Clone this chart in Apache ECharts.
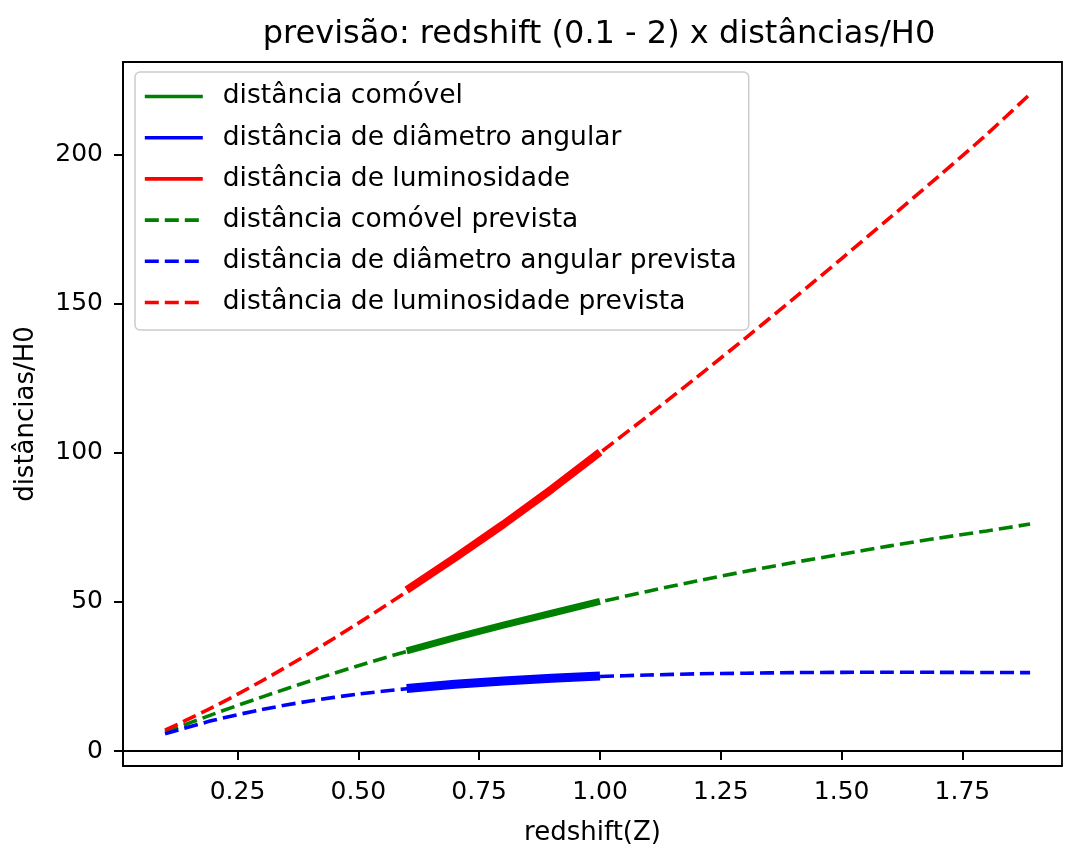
<!DOCTYPE html>
<html>
<head>
<meta charset="utf-8">
<script src="https://cdn.jsdelivr.net/npm/echarts@6/dist/echarts.min.js"></script>
<style>html,body{margin:0;padding:0;background:#fff}#c{width:1067px;height:851px}</style>
</head>
<body>
<div id="c"></div>
<script>
// redshift sample points
const zPrev = [0.1, 0.2, 0.3, 0.4, 0.5, 0.6, 0.7, 0.8, 0.9, 1.0, 1.1, 1.2, 1.3, 1.4, 1.5, 1.6, 1.7, 1.8, 1.89];
const comovelPrev = [6.3, 12.4, 18.1, 23.5, 28.6, 33.4, 37.9, 42.2, 46.2, 50.0, 53.6, 57.0, 60.2, 63.2, 66.0, 68.8, 71.4, 73.8, 76.1];
const angularPrev = [5.8, 10.3, 13.9, 16.8, 19.1, 20.9, 22.3, 23.4, 24.3, 25.0, 25.5, 25.9, 26.1, 26.3, 26.4, 26.45, 26.4, 26.35, 26.3];
const luminPrev = [7.0, 14.8, 23.5, 32.9, 42.9, 53.4, 64.5, 75.9, 87.8, 100.0, 112.5, 125.3, 138.3, 151.6, 165.1, 178.8, 192.6, 206.7, 220.3];

const zObs = [0.6, 0.7, 0.8, 0.9, 1.0];
const comovelObs = [33.6, 38.0, 42.2, 46.2, 50.2];
const angularObs = [21.0, 22.4, 23.5, 24.4, 25.2];
const luminObs = [54.0, 64.8, 76.0, 87.8, 100.2];

const xTicks = [0.25, 0.5, 0.75, 1.0, 1.25, 1.5, 1.75];
const yTicks = [0, 50, 100, 150, 200];

const names = [
  'distância comóvel',
  'distância de diâmetro angular',
  'distância de luminosidade',
  'distância comóvel prevista',
  'distância de diâmetro angular prevista',
  'distância de luminosidade prevista'
];
const colors = ['#008000', '#0000ff', '#ff0000', '#008000', '#0000ff', '#ff0000'];

const pair = (xs, ys) => xs.map((x, i) => [x, ys[i]]);
const FONT = 'DejaVu Sans';
const DASH = [14, 6];
const LW = 3.6;

function line(name, xs, ys, color, dashed, width) {
  return {
    name: name, type: 'line', data: pair(xs, ys),
    showSymbol: false, symbol: 'none', smooth: dashed ? 0.3 : false,
    lineStyle: { color: color, width: width, type: dashed ? DASH : 'solid', cap: 'butt' },
    itemStyle: { color: color },
    emphasis: { disabled: true }, animation: false
  };
}

const chart = echarts.init(document.getElementById('c'), null, { renderer: 'canvas' });
chart.setOption({
  animation: false,
  backgroundColor: '#fff',
  title: {
    text: 'previsão: redshift (0.1 - 2) x distâncias/H0',
    left: 594, textAlign: 'center', top: 14,
    textStyle: { fontFamily: FONT, fontSize: 32, fontWeight: 'normal', color: '#000' }
  },
  legend: {
    orient: 'vertical', left: 135, top: 72,
    padding: [11, 12, 14, 8],
    itemWidth: 58, itemHeight: 26, itemGap: 14.2,
    borderColor: '#cccccc', borderWidth: 1.5, borderRadius: 5,
    backgroundColor: 'rgba(255,255,255,0.85)',
    textStyle: { fontFamily: FONT, fontSize: 26.5, lineHeight: 26, color: '#000', padding: [0, 0, 0, 15] },
    data: names.map((n, i) => ({
      name: n,
      itemStyle: { color: 'transparent', borderWidth: 0, opacity: 0 },
      lineStyle: { width: LW, color: colors[i], type: i >= 3 ? DASH : 'solid', cap: 'butt', opacity: 1 }
    }))
  },
  grid: { left: 123, right: 5, top: 62, bottom: 78, show: true, borderColor: '#000', borderWidth: 1.8, containLabel: false },
  xAxis: {
    type: 'value', min: 0.013, max: 1.956,
    name: 'redshift(Z)', nameLocation: 'middle', nameGap: 54,
    nameTextStyle: { fontFamily: FONT, fontSize: 26, color: '#000' },
    axisLine: { show: true, lineStyle: { color: '#000', width: 1.8 } },
    axisTick: { show: true, inside: false, length: 9, customValues: xTicks, lineStyle: { color: '#000', width: 2 } },
    axisLabel: { customValues: xTicks, margin: 14, fontFamily: FONT, fontSize: 25, color: '#000', formatter: v => v.toFixed(2) },
    splitLine: { show: false }
  },
  yAxis: {
    type: 'value', min: -5, max: 231,
    name: 'distâncias/H0', nameLocation: 'middle', nameGap: 84, nameRotate: 90,
    nameTextStyle: { fontFamily: FONT, fontSize: 26, color: '#000' },
    axisLine: { show: true, lineStyle: { color: '#000', width: 1.8 } },
    axisTick: { show: true, inside: false, length: 9, customValues: yTicks, lineStyle: { color: '#000', width: 2 } },
    axisLabel: { customValues: yTicks, margin: 20, fontFamily: FONT, fontSize: 25, color: '#000' },
    splitLine: { show: false }
  },
  series: [
    line(names[0], zObs, comovelObs, colors[0], false, 7),
    line(names[1], zObs, angularObs, colors[1], false, 9),
    line(names[2], zObs, luminObs, colors[2], false, 8),
    line(names[3], zPrev, comovelPrev, colors[3], true, LW),
    line(names[4], zPrev, angularPrev, colors[4], true, LW),
    line(names[5], zPrev, luminPrev, colors[5], true, LW)
  ]
});
</script>
</body>
</html>
